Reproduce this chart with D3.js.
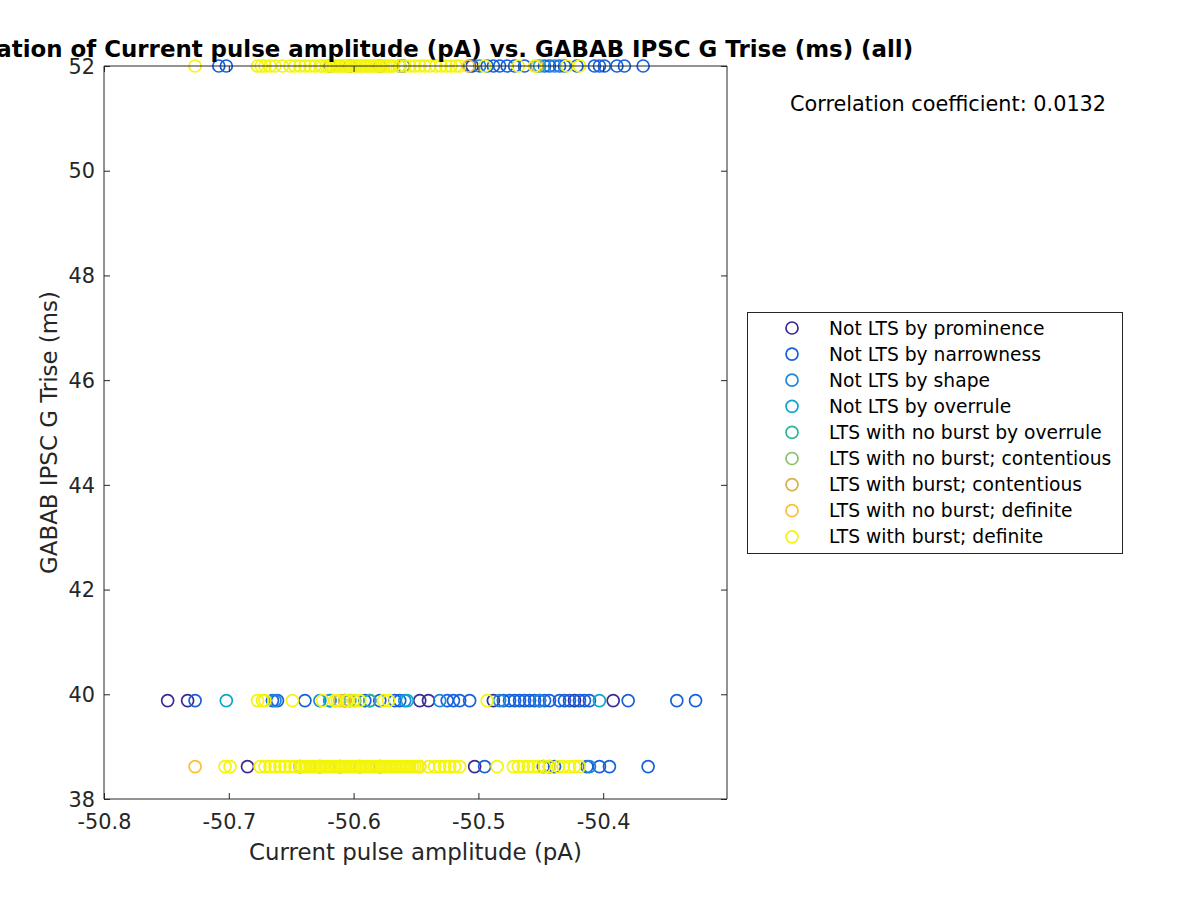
<!DOCTYPE html>
<html><head><meta charset="utf-8">
<script src="https://cdn.jsdelivr.net/npm/d3@7"></script>
<style>body{margin:0;background:#fff}svg text{font-family:"DejaVu Sans",sans-serif}</style>
</head><body><div id="chart"></div>
<script>
// ---- data ----
const categories = ["Not LTS by prominence","Not LTS by narrowness","Not LTS by shape","Not LTS by overrule","LTS with no burst by overrule","LTS with no burst; contentious","LTS with burst; contentious","LTS with no burst; definite","LTS with burst; definite"];
const colors = ["#3b2a94","#1660dc","#1d87dc","#0ca7cc","#2eb59e","#86bf6c","#d4b24c","#fcbf33","#f4f40c"];
const rowValues = [52, 39.88, 38.62]; // y values of the three rows
// x values per category per row (top = 52, mid = 39.88, bot = 38.62)
const topX = [
  [-50.505],
  [-50.708,-50.702,-50.619,-50.603,-50.579,-50.563,-50.560,-50.507,-50.493,-50.488,-50.483,-50.477,-50.471,-50.463,-50.447,-50.443,-50.435,-50.431,-50.421,-50.407,-50.403,-50.399,-50.389,-50.383,-50.368],
  [-50.499,-50.439],
  [-50.451],
  [],
  [],
  [-50.453],
  [-50.508],
  [-50.727,-50.677,-50.674,-50.671,-50.667,-50.663,-50.657,-50.651,-50.647,-50.643,-50.639,-50.635,-50.631,-50.627,-50.625,
   -50.622,-50.620,-50.618,-50.616,-50.614,-50.612,-50.610,-50.608,-50.606,-50.604,-50.602,-50.600,-50.598,-50.596,-50.594,-50.592,-50.590,-50.588,-50.586,-50.584,-50.582,-50.580,-50.578,-50.576,-50.574,-50.572,-50.570,-50.568,
   -50.563,-50.559,-50.555,-50.551,-50.547,-50.543,-50.539,-50.534,-50.530,-50.526,-50.522,-50.518,-50.515,
   -50.495,-50.468,-50.455,-50.429,-50.419]
];
const midX = [
  [-50.749,-50.733,-50.547,-50.540,-50.488,-50.451,-50.423,-50.392],
  [-50.727,-50.665,-50.661,-50.639,-50.619,-50.607,-50.591,-50.587,-50.579,-50.567,-50.563,-50.525,-50.520,-50.515,-50.507,-50.480,-50.475,-50.471,-50.467,-50.463,-50.459,-50.455,-50.447,-50.443,-50.435,-50.431,-50.427,-50.419,-50.415,-50.411,-50.380,-50.341,-50.326],
  [-50.663,-50.627,-50.559,-50.531,-50.483,-50.451],
  [-50.702,-50.619,-50.557,-50.403],
  [-50.603,-50.587],
  [-50.599],
  [-50.611],
  [-50.607],
  [-50.677,-50.673,-50.671,-50.649,-50.625,-50.615,-50.613,-50.605,-50.600,-50.595,-50.576,-50.572,-50.493]
];
const botX = [
  [-50.685,-50.503,-50.443],
  [-50.643,-50.627,-50.611,-50.579,-50.495,-50.448,-50.439,-50.413,-50.403,-50.395,-50.364],
  [-50.595,-50.411],
  [],
  [],
  [],
  [],
  [-50.727,-50.547],
  [-50.703,-50.699,-50.675,-50.671,-50.667,-50.663,-50.659,-50.655,-50.651,-50.647,-50.643,
   -50.641,-50.639,-50.637,-50.635,-50.633,-50.631,-50.629,-50.627,-50.625,-50.623,-50.621,-50.619,-50.617,-50.615,-50.613,-50.611,-50.609,-50.607,-50.605,-50.603,-50.601,-50.599,-50.597,-50.595,-50.593,-50.591,-50.589,-50.587,-50.585,-50.583,-50.581,-50.579,-50.577,-50.575,-50.573,-50.571,-50.569,-50.567,-50.565,-50.563,-50.561,-50.559,-50.557,-50.555,-50.553,-50.551,-50.549,-50.547,
   -50.540,-50.535,-50.531,-50.527,-50.523,-50.519,-50.515,-50.485,-50.472,-50.468,-50.464,-50.460,-50.456,-50.452,-50.447,-50.443,-50.436,-50.432,-50.427,-50.423,-50.419]
];
const xTicks = [-50.8,-50.7,-50.6,-50.5,-50.4];
const yTicks = [38,40,42,44,46,48,50,52];
const xDomain = [-50.8,-50.3008];
const yDomain = [38,52];
const titleText = "Correlation of Current pulse amplitude (pA) vs. GABAB IPSC G Trise (ms) (all)";
const xLabel = "Current pulse amplitude (pA)";
const yLabel = "GABAB IPSC G Trise (ms)";
const corrText = "Correlation coefficient: 0.0132";

// ---- drawing ----
const W=1200,H=900;
const L=104,R=727,T=66,B=799;
const svg=d3.select("#chart").append("svg").attr("width",W).attr("height",H);
const x=d3.scaleLinear().domain(xDomain).range([L,R]);
const y=d3.scaleLinear().domain(yDomain).range([B,T]);
const axCol="#262626";

// points
const pts=[];
categories.forEach((c,i)=>{
  [topX,midX,botX].forEach((arr,r)=>arr[i].forEach(v=>pts.push({c:i,x:v,y:rowValues[r]})));
});
svg.append("g").selectAll("circle").data(pts).join("circle")
  .attr("cx",d=>x(d.x)).attr("cy",d=>y(d.y)).attr("r",6)
  .attr("fill","none").attr("stroke",d=>colors[d.c]).attr("stroke-width",1.7);

// axes
const gx=svg.append("g").attr("transform",`translate(0,${B})`)
  .call(d3.axisBottom(x).tickValues(xTicks).tickSize(-6).tickFormat(d=>d3.format(".1f")(d).replace("\u2212","-")));
const gxt=svg.append("g").attr("transform",`translate(0,${T})`)
  .call(d3.axisTop(x).tickValues(xTicks).tickSize(-6).tickFormat(""));
const gy=svg.append("g").attr("transform",`translate(${L},0)`)
  .call(d3.axisLeft(y).tickValues(yTicks).tickSize(-6).tickFormat(d3.format("d")));
const gyr=svg.append("g").attr("transform",`translate(${R},0)`)
  .call(d3.axisRight(y).tickValues(yTicks).tickSize(-6).tickFormat(""));
[gx,gxt,gy,gyr].forEach(g=>{
  g.selectAll("path").attr("stroke",axCol).attr("stroke-width",1);
  g.selectAll("line").attr("stroke",axCol);
  g.selectAll("text").attr("fill",axCol).attr("font-size",20.8).attr("font-family","DejaVu Sans");
});
gx.selectAll("text").attr("y",30).attr("dy",null);
gy.selectAll("text").attr("x",-9).attr("dy","0.35em");
gx.selectAll(".domain").attr("d",`M${L},0H${R}`);
gxt.selectAll(".domain").attr("d",`M${L},0H${R}`);
gy.selectAll(".domain").attr("d",`M0,${B}V${T}`);
gyr.selectAll(".domain").attr("d",`M0,${B}V${T}`);

// labels
svg.append("text").attr("x",(L+R)/2).attr("y",860).attr("text-anchor","middle")
  .attr("font-size",22.9).attr("fill",axCol).text(xLabel);
svg.append("text").attr("transform",`translate(57,${(T+B)/2}) rotate(-90)`).attr("text-anchor","middle")
  .attr("font-size",22.9).attr("fill",axCol).text(yLabel);
svg.append("text").attr("x",(L+R)/2).attr("y",57).attr("text-anchor","middle")
  .attr("font-size",22.9).attr("font-weight","bold").attr("fill","#000").text(titleText);
svg.append("text").attr("x",790).attr("y",111).attr("font-size",20.8).attr("fill","#000").text(corrText);

// legend
const lg=svg.append("g");
lg.append("rect").attr("x",747.5).attr("y",312.5).attr("width",375).attr("height",241)
  .attr("fill","#fff").attr("stroke",axCol).attr("stroke-width",1);
categories.forEach((c,i)=>{
  const yy=328+i*26.1;
  lg.append("circle").attr("cx",792).attr("cy",yy).attr("r",6).attr("fill","none")
    .attr("stroke",colors[i]).attr("stroke-width",1.7);
  lg.append("text").attr("x",829).attr("y",yy+6.5).attr("font-size",18.7).attr("fill","#000").text(c);
});
</script></body></html>
